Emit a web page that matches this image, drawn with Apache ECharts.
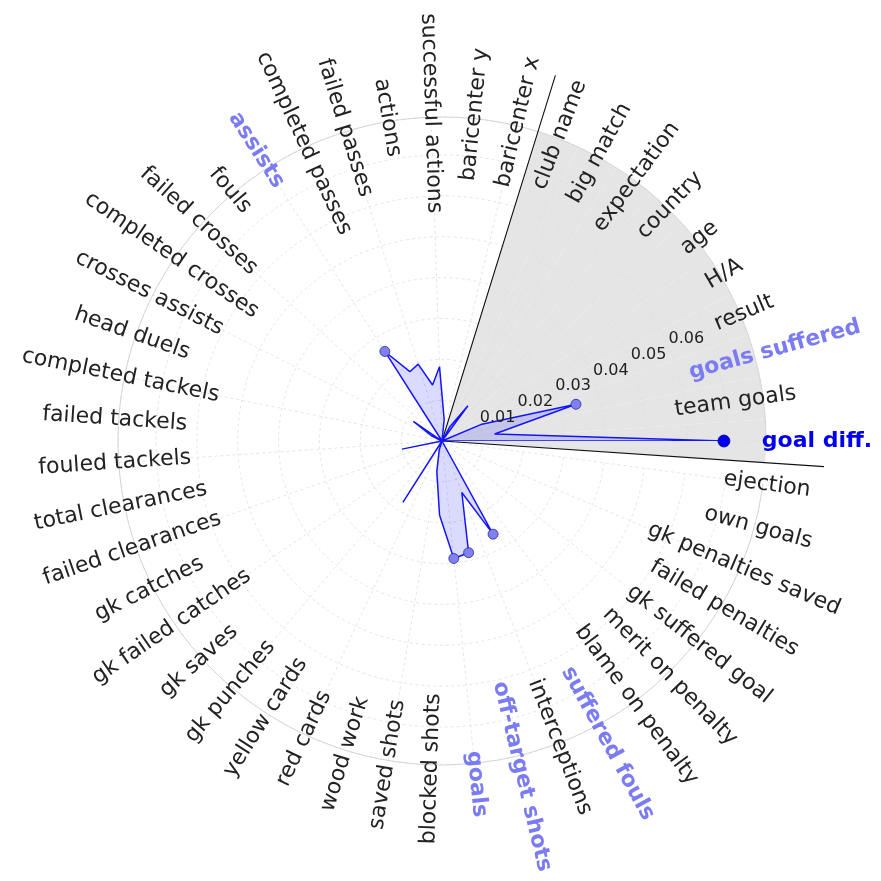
<!DOCTYPE html>
<html><head><meta charset="utf-8">
<script src="https://cdn.jsdelivr.net/npm/echarts@6/dist/echarts.min.js"></script>
<style>html,body{margin:0;padding:0;background:#fff}#c{width:881px;height:881px}</style>
</head><body><div id="c"></div>
<script>
// ---------------- data ----------------
const categories = ['goal diff.','team goals','goals suffered','result','H/A','age','country','expectation','big match','club name',
 'baricenter x','baricenter y','successful actions','actions','failed passes','completed passes','assists','fouls',
 'failed crosses','completed crosses','crosses assists','head duels','completed tackels','failed tackels','fouled tackels',
 'total clearances','failed clearances','gk catches','gk failed catches','gk saves','gk punches','yellow cards','red cards',
 'wood work','saved shots','blocked shots','goals','off-target shots','interceptions','suffered fouls','blame on penalty',
 'merit on penalty','gk suffered goal','failed penalties','gk penalties saved','own goals','ejection'];
const values = [0.069,0.013,0.034,0.0103,0,0,0,0.0107,0.004,0,
 0,0.0053,0.0182,0.0139,0.0197,0.0187,0.026,0,
 0,0.0085,0.003,0,0,0,0,
 0.0100,0,0,0,0,0,0.0178,0,
 0.0023,0.0076,0.0181,0.0289,0.0281,0.0135,0.026,0,
 0,0,0,0,0,0];
const highlighted = ['goals suffered','assists','goals','off-target shots','suffered fouls'];
const mainFeature = 'goal diff.';
const shadedCategories = ['goal diff.','team goals','goals suffered','result','H/A','age','country','expectation','big match','club name'];
const radialTicks = [0.01,0.02,0.03,0.04,0.05,0.06];
const radialTickLabels = ['0.01','0.02','0.03','0.04','0.05','0.06'];
const rMax = 0.0793;

// ---------------- layout / style ----------------
const CX = 442, CY = 441, R = 324, R_OUT = 383;
const N = categories.length, STEP = 360 / N;
const RLABEL_ANGLE = 22.5;
const pxToVal = px => rMax * px / R;
const rMaxOut = pxToVal(R_OUT);
const FONT = 'DejaVu Sans';
const TXT = '#222222', HL = '#7b7bf4', MAIN = '#0000ee';

const firstShaded = categories.indexOf(shadedCategories[0]);
const lastShaded = categories.indexOf(shadedCategories[shadedCategories.length - 1]);
const lowerAngle = ((firstShaded - 0.5) * STEP + 360) % 360;
const upperAngle = (lastShaded + 0.5) * STEP;

const shadeData = categories.map(c => shadedCategories.includes(c) ? rMax : 0);
const lineData = values.map((v, i) => [v, i]);
lineData.push([values[0], 0]);

const hlData = highlighted.map(c => { const i = categories.indexOf(c); return [values[i], i]; });
const mainIdx = categories.indexOf(mainFeature);

const labelRadiusPx = c => {
  if (c === mainFeature) return 375;
  if (c === 'team goals') return 296;
  if (highlighted.includes(c)) return 345;
  return 328;
};
const labelData = categories.map((c, i) => {
  const ang = i * STEP;
  const rot = (ang > 90 && ang <= 270) ? ang - 180 : ang;
  const isHL = highlighted.includes(c), isMain = c === mainFeature;
  return {
    name: c,
    value: [pxToVal(labelRadiusPx(c)), i],
    label: {
      rotate: rot,
      color: isMain ? MAIN : (isHL ? HL : TXT),
      fontWeight: (isMain || isHL) ? 'bold' : 'normal'
    }
  };
});
const tickData = radialTicks.map((v, k) => ({ name: radialTickLabels[k], value: [v, RLABEL_ANGLE] }));

const grid = { color: '#dedede', type: [3, 3], width: 0.8 };
const noBorder = { textBorderWidth: 0, textShadowBlur: 0, opacity: 1 };

const chart = echarts.init(document.getElementById('c'), null, { renderer: 'canvas' });
chart.setOption({
  animation: false,
  backgroundColor: '#ffffff',
  polar: [{ center: [CX, CY], radius: R }, { center: [CX, CY], radius: R_OUT }],
  angleAxis: [
    { polarIndex: 0, type: 'category', data: categories, startAngle: 0, clockwise: false, boundaryGap: false, z: 1,
      axisLine: { show: true, lineStyle: { color: '#d6d6d6', width: 1 } },
      axisTick: { show: false }, axisLabel: { show: false },
      splitLine: { show: true, lineStyle: grid } },
    { polarIndex: 1, type: 'value', min: 0, max: 360, startAngle: 0, clockwise: false, show: false }
  ],
  radiusAxis: [
    { polarIndex: 0, type: 'value', min: 0, max: rMax, interval: 0.01, z: 1,
      axisLine: { show: false }, axisTick: { show: false }, axisLabel: { show: false },
      splitLine: { show: true, lineStyle: grid } },
    { polarIndex: 1, type: 'value', min: 0, max: rMaxOut, show: false }
  ],
  series: [
    { type: 'bar', coordinateSystem: 'polar', polarIndex: 0, data: shadeData, barCategoryGap: '0%',
      itemStyle: { color: '#e5e5e5' }, z: 0, silent: true },
    { type: 'line', coordinateSystem: 'polar', polarIndex: 1, clip: false, silent: true, z: 2,
      data: [[rMaxOut, upperAngle], [0, upperAngle], [0, lowerAngle], [rMaxOut, lowerAngle]],
      symbol: 'none', lineStyle: { color: '#111', width: 1.1 } },
    { type: 'line', coordinateSystem: 'polar', polarIndex: 0, data: lineData, symbol: 'none', z: 3, silent: true,
      lineStyle: { color: '#1414ff', width: 1.5 }, areaStyle: { color: 'rgba(0,0,255,0.2)' } },
    { type: 'scatter', coordinateSystem: 'polar', polarIndex: 0, data: hlData, symbolSize: 10, z: 4, silent: true,
      itemStyle: { color: '#8080f4', borderColor: '#2a2a8a', borderWidth: 0.8, opacity: 1 } },
    { type: 'scatter', coordinateSystem: 'polar', polarIndex: 0, data: [[values[mainIdx], mainIdx]], symbolSize: 12, z: 4, silent: true,
      itemStyle: { color: MAIN, borderColor: '#00008a', borderWidth: 0.8, opacity: 1 } },
    { type: 'scatter', coordinateSystem: 'polar', polarIndex: 0, data: labelData, symbolSize: 0, clip: false, z: 5, silent: true,
      itemStyle: { opacity: 1 },
      label: Object.assign({ show: true, position: 'inside', formatter: '{b}', fontFamily: FONT, fontSize: 22,
               align: 'center', verticalAlign: 'middle' }, noBorder) },
    { type: 'scatter', coordinateSystem: 'polar', polarIndex: 1, data: tickData, symbolSize: 0, clip: false, z: 5, silent: true,
      itemStyle: { opacity: 1 },
      label: Object.assign({ show: true, position: [0, 0], formatter: '{b}', fontFamily: FONT, fontSize: 16, color: TXT,
               align: 'left', verticalAlign: 'bottom' }, noBorder) }
  ]
});
</script></body></html>
